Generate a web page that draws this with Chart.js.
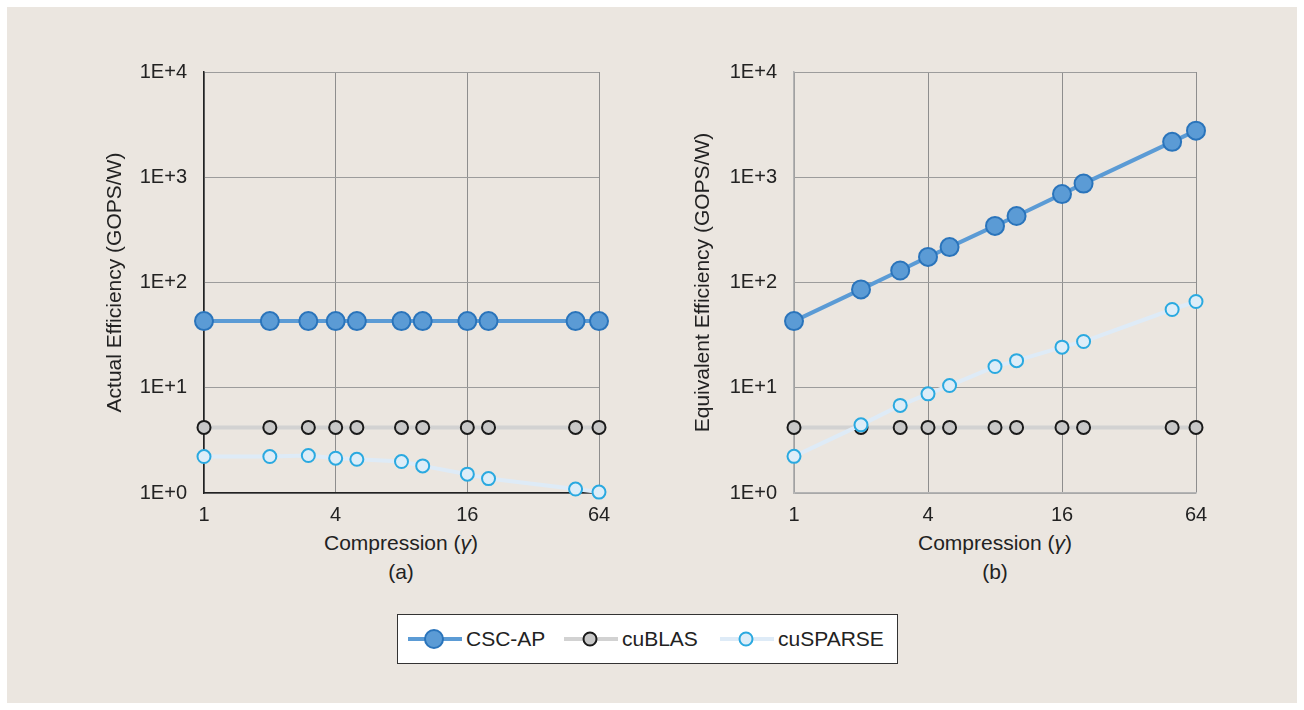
<!DOCTYPE html>
<html>
<head>
<meta charset="utf-8">
<script src="https://cdn.jsdelivr.net/npm/chart.js@4.4.1/dist/chart.umd.min.js"></script>
<style>
  html, body { margin: 0; padding: 0; background: #fff; }
  body { width: 1304px; height: 710px; position: relative; overflow: hidden;
         font-family: "Liberation Sans", Arial, sans-serif; color: #222; }
  #panel { position: absolute; left: 7px; top: 7px; width: 1290px; height: 696px; background: #ebe6e0; }
  canvas { position: absolute; }
  .xt { position: absolute; width: 300px; text-align: center; font-size: 21px; line-height: 22px; }
  #legend { position: absolute; left: 397px; top: 614px; width: 499px; height: 48px;
            background: #fff; border: 1px solid #333; }
  .item { position: absolute; top: 0; height: 48px; display: flex; align-items: center; font-size: 21px; }
  .item svg { margin-right: 3px; }
</style>
</head>
<body>
<div id="panel"></div>
<canvas id="chartA" width="540" height="490" style="left:90px;top:40px"></canvas>
<canvas id="chartB" width="540" height="490" style="left:680px;top:40px"></canvas>
<div class="xt" style="left:251px;top:532px">Compression (<i>γ</i>)</div>
<div class="xt" style="left:251px;top:561px">(a)</div>
<div class="xt" style="left:845px;top:532px">Compression (<i>γ</i>)</div>
<div class="xt" style="left:845px;top:561px">(b)</div>
<div id="legend"></div>

<script>
const gamma = [1, 2, 3, 4, 5, 8, 10, 16, 20, 50, 64];

const actualCsc = [43, 43, 43, 43, 43, 43, 43, 43, 43, 43, 43];
const actualCublas = [4.2, 4.2, 4.2, 4.2, 4.2, 4.2, 4.2, 4.2, 4.2, 4.2, 4.2];
const actualCusparse = [2.22, 2.22, 2.27, 2.14, 2.09, 1.99, 1.81, 1.51, 1.37, 1.09, 1.02];

const equivCsc = [43, 86, 130, 175, 217, 345, 428, 692, 870, 2170, 2770];
const equivCublas = [4.2, 4.2, 4.2, 4.2, 4.2, 4.2, 4.2, 4.2, 4.2, 4.2, 4.2];
const equivCusparse = [2.23, 4.44, 6.8, 8.75, 10.5, 15.9, 18.1, 24.3, 27.5, 55.4, 66];

const xTicks = [1, 4, 16, 64];
const yTicks = [1, 10, 100, 1000, 10000];
const yTickLabels = ['1E+0', '1E+1', '1E+2', '1E+3', '1E+4'];

const seriesNames = ['CSC-AP', 'cuBLAS', 'cuSPARSE'];

const styles = {
  'CSC-AP':   { line: '#5b9bd5', fill: '#5b9bd5', edge: '#2a74bb', r: 9, order: 0 },
  'cuBLAS':   { line: '#d2d2d2', fill: '#c8c8c8', edge: '#1a1a1a', r: 6.5, order: 2 },
  'cuSPARSE': { line: '#deebf7', fill: '#ddedf8', edge: '#2aa9e0', r: 6.5, order: 1 }
};

const FONT = '"Liberation Sans", Arial, sans-serif';

function makeDataset(name, values) {
  const s = styles[name];
  return {
    label: name,
    data: gamma.map((g, i) => ({ x: g, y: values[i] })),
    borderColor: s.line,
    borderWidth: 4,
    pointBackgroundColor: s.fill,
    pointBorderColor: s.edge,
    pointBorderWidth: 2,
    pointRadius: s.r,
    pointHoverRadius: s.r,
    order: s.order,
    clip: false,
    tension: 0
  };
}

function makeChart(id, title, lists, borderColor, rightPad, titlePad) {
  const ctx = document.getElementById(id).getContext('2d');
  return new Chart(ctx, {
    type: 'line',
    data: {
      datasets: seriesNames.map((n, i) => makeDataset(n, lists[i]))
    },
    options: {
      responsive: false,
      animation: false,
      layout: { padding: { left: 0, top: 32, right: rightPad, bottom: 0 } },
      plugins: { legend: { display: false }, tooltip: { enabled: false } },
      scales: {
        x: {
          type: 'logarithmic',
          min: 1,
          max: 64,
          afterBuildTicks: (scale) => { scale.ticks = xTicks.map(v => ({ value: v })); },
          afterFit: (scale) => { scale.height = 37; },
          ticks: {
            padding: 10,
            maxRotation: 0,
            color: '#222',
            font: { family: FONT, size: 20 },
            callback: (v, i) => String(xTicks[i])
          },
          grid: { color: '#8e8e8e', drawTicks: false },
          border: { color: borderColor, width: 1.5 }
        },
        y: {
          type: 'logarithmic',
          min: 1,
          max: 10000,
          afterBuildTicks: (scale) => { scale.ticks = yTicks.map(v => ({ value: v })); },
          afterFit: (scale) => { scale.width = 114; },
          ticks: {
            padding: 17,
            color: '#222',
            font: { family: FONT, size: 20 },
            callback: (v, i) => yTickLabels[i]
          },
          grid: { color: '#9c9c9c', drawTicks: false },
          border: { color: borderColor, width: 1.5 },
          title: {
            display: true,
            text: title,
            color: '#222',
            font: { family: FONT, size: 21 },
            padding: { top: titlePad, bottom: 0 }
          }
        }
      }
    }
  });
}

makeChart('chartA', 'Actual Efficiency (GOPS/W)', [actualCsc, actualCublas, actualCusparse], '#222', 31, 13);
makeChart('chartB', 'Equivalent Efficiency (GOPS/W)', [equivCsc, equivCublas, equivCusparse], '#b4b4b4', 24, 11);

// legend built from the same series styles
const legend = document.getElementById('legend');
const itemLeft = [9, 165, 321];
seriesNames.forEach((name, i) => {
  const s = styles[name];
  const item = document.createElement('div');
  item.className = 'item';
  item.style.left = itemLeft[i] + 'px';
  item.innerHTML =
    '<svg width="56" height="24" viewBox="0 0 56 24">' +
    '<line x1="1" y1="12" x2="55" y2="12" stroke="' + s.line + '" stroke-width="4"/>' +
    '<circle cx="27" cy="12" r="' + s.r + '" fill="' + s.fill + '" stroke="' + s.edge + '" stroke-width="2"/>' +
    '</svg><span>' + name + '</span>';
  legend.appendChild(item);
});
</script>
</body>
</html>
